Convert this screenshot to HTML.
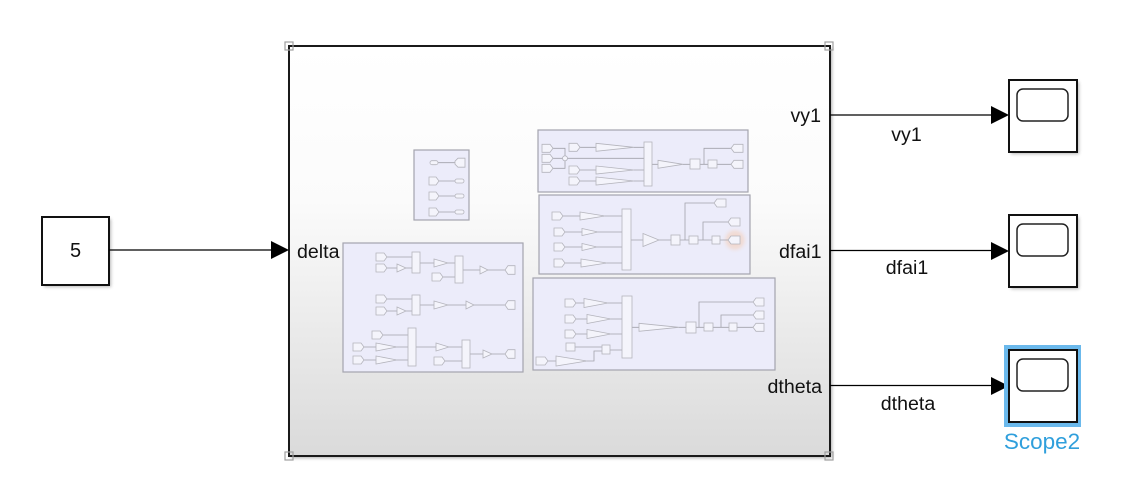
<!DOCTYPE html>
<html>
<head>
<meta charset="utf-8">
<style>
html,body{margin:0;padding:0;background:#fff;width:1134px;height:489px;overflow:hidden}
svg{display:block}
text{font-family:"Liberation Sans",Arial,sans-serif;fill:#111}
.p{fill:#ececfa;stroke:#a4a4ae;stroke-width:1.2}
.l{fill:none;stroke:#a2a2aa;stroke-width:.8}
.b{fill:#f4f4fb;stroke:#b4b4bc;stroke-width:.8}
.s{fill:none;stroke:#000;stroke-width:1.2}
.sc{fill:#fff;stroke:#111;stroke-width:2}
.h{fill:none;stroke:#a0a0a0;stroke-width:1.2}
</style>
</head>
<body>
<svg width="1134" height="489" viewBox="0 0 1134 489" xmlns="http://www.w3.org/2000/svg">
<defs>
<linearGradient id="g" x1="0" y1="0" x2="0" y2="1">
<stop offset="0" stop-color="#ffffff"/>
<stop offset=".38" stop-color="#fbfbfb"/>
<stop offset="1" stop-color="#dadada"/>
</linearGradient>
<radialGradient id="glow">
<stop offset="0" stop-color="#f3c9b4" stop-opacity=".9"/>
<stop offset=".6" stop-color="#f3d6c8" stop-opacity=".6"/>
<stop offset="1" stop-color="#ececfa" stop-opacity="0"/>
</radialGradient>
<filter id="sh" x="-5%" y="-5%" width="112%" height="112%"><feGaussianBlur stdDeviation="1.6"/></filter>
</defs>

<!-- constant -->
<rect x="44" y="219" width="67" height="68" fill="#888" opacity=".6" filter="url(#sh)"/>
<rect x="42" y="217" width="67" height="68" class="sc"/>
<text x="75.500" y="257" font-size="20" text-anchor="middle">5</text>

<!-- subsystem -->
<rect x="291" y="48" width="541" height="410" fill="#777" opacity=".6" filter="url(#sh)"/>
<rect x="289" y="46" width="541" height="410" fill="url(#g)" stroke="#1a1a1a" stroke-width="2"/>
<rect x="285" y="42" width="8" height="8" class="h"/>
<rect x="825" y="42" width="8" height="8" class="h"/>
<rect x="285" y="452" width="8" height="8" class="h"/>
<rect x="825" y="452" width="8" height="8" class="h"/>

<!-- signals -->
<path class="s" d="M109 250H273"/>
<path d="M271 241L289 250L271 259Z" fill="#000"/>
<path class="s" d="M830 115H992"/>
<path d="M991 106L1009 115L991 124Z" fill="#000"/>
<path class="s" d="M830 250.500H992"/>
<path d="M991 242L1009 251L991 260Z" fill="#000"/>
<path class="s" d="M830 385.500H992"/>
<path d="M991 377L1009 386L991 395Z" fill="#000"/>

<text x="297" y="258" font-size="19.600">delta</text>
<text x="821" y="122" font-size="19.600" text-anchor="end">vy1</text>
<text x="821.500" y="258" font-size="19.600" text-anchor="end">dfai1</text>
<text x="822" y="393" font-size="19.600" text-anchor="end">dtheta</text>
<text x="906.500" y="141" font-size="19.600" text-anchor="middle">vy1</text>
<text x="907" y="274" font-size="19.600" text-anchor="middle">dfai1</text>
<text x="908" y="410" font-size="19.600" text-anchor="middle">dtheta</text>

<!-- scopes -->
<rect x="1011" y="82" width="68" height="72" fill="#888" opacity=".6" filter="url(#sh)"/>
<rect x="1009" y="80" width="68" height="72" class="sc"/>
<rect x="1017" y="89" width="51" height="32" rx="6" fill="#fff" stroke="#222" stroke-width="1.500"/>
<rect x="1011" y="217" width="68" height="72" fill="#888" opacity=".6" filter="url(#sh)"/>
<rect x="1009" y="215" width="68" height="72" class="sc"/>
<rect x="1017" y="224" width="51" height="32" rx="6" fill="#fff" stroke="#222" stroke-width="1.500"/>
<rect x="1004" y="345" width="77" height="82" fill="#6bb9ec"/>
<rect x="1009" y="350" width="68" height="72" class="sc"/>
<rect x="1017" y="359" width="51" height="32" rx="6" fill="#fff" stroke="#222" stroke-width="1.500"/>
<text x="1042" y="449" font-size="22.500" text-anchor="middle" style="fill:#2f9fdc">Scope2</text>

<!-- Panel A -->
<rect class="p" x="538" y="130" width="210" height="62"/>
<path class="l" d="M553 148.300H565V156M553 168.300H565V161M553 158.300H562.500M567.500 158.300H644M580 147.300H596M634 147.300H644M580 170H596M634 170H644M580 181H596M634 181H644M652 164.300H658M683 164.300H690M700 164.300H708M717 164.300H731M704 164.300V148.300H731"/>
<path class="b" d="M542 144.300h8l3 4l-3 4h-8zM542 154.300h8l3 4l-3 4h-8zM542 164.300h8l3 4l-3 4h-8zM569 143.300h8l3 4l-3 4h-8zM569 166h8l3 4l-3 4h-8zM569 177h8l3 4l-3 4h-8z"/>
<circle class="b" cx="565" cy="158.300" r="2.500"/>
<path class="b" d="M596 143.300L634 147.300L596 151.300ZM596 166L634 170L596 174ZM596 177L634 181L596 185ZM658 160.300L683 164.300L658 168.300Z"/>
<rect class="b" x="644" y="142" width="8" height="44"/>
<rect class="b" x="690" y="159" width="10" height="10"/>
<rect class="b" x="708" y="160" width="9" height="8"/>
<path class="b" d="M743 144.300h-9l-3 4l3 4h9zM743 160.300h-9l-3 4l3 4h9z"/>

<!-- Panel B -->
<rect class="p" x="539" y="195" width="211" height="79"/>
<circle cx="735" cy="240" r="14" fill="url(#glow)"/>
<path class="l" d="M563 216H580M605 216H622M565 232H582M598 232H622M565 247H582M597 247H622M565 263H581M607 263H622M631 240H643M659 240H671M680 240H689M698 240H712M720 240H729M685 240V203H714M703 240V222H728"/>
<path class="b" d="M552 212h8l3 4l-3 4h-8zM554 228h8l3 4l-3 4h-8zM554 243h8l3 4l-3 4h-8zM554 259h8l3 4l-3 4h-8z"/>
<path class="b" d="M580 212L605 216L580 220ZM582 228.500L598 232L582 235.500ZM582 243.500L597 247L582 250.500ZM581 259L607 263L581 267ZM643 233.500L659 240L643 246.500Z"/>
<rect class="b" x="622" y="209" width="9" height="61"/>
<rect class="b" x="671" y="235" width="9" height="10"/>
<rect class="b" x="689" y="236" width="9" height="8"/>
<rect class="b" x="712" y="236" width="8" height="8"/>
<path class="b" d="M726 199h-9l-3 4l3 4h9zM740 218h-9l-3 4l3 4h9zM740 236h-9l-3 4l3 4h9z"/>

<!-- Panel C -->
<rect class="p" x="533" y="278" width="242" height="92"/>
<path class="l" d="M576 303H584M608 303H622M576 319H587M611 319H622M576 334H587M611 334H622M575 347H602M610 350H622M548 361H556M587 361H594V351H602M632 327.300H639M679 327.300H686M696 327.300H704M713 327.300H729M737 327.300H753M699 327.300V302H753M721 327.300V315H753"/>
<path class="b" d="M565 299h8l3 4l-3 4h-8zM565 315h8l3 4l-3 4h-8zM565 330h8l3 4l-3 4h-8zM536 357h9l3 4l-3 4h-9z"/>
<rect class="b" x="566" y="343" width="9" height="8"/>
<path class="b" d="M584 298.500L608 303L584 307.500ZM587 314.500L611 319L587 323.500ZM587 329.500L611 334L587 338.500ZM556 356L587 361L556 366ZM639 323.300L679 327.300L639 331.300Z"/>
<rect class="b" x="622" y="296" width="10" height="62"/>
<rect class="b" x="602" y="345" width="8" height="9"/>
<rect class="b" x="686" y="322" width="10" height="11"/>
<rect class="b" x="704" y="323" width="9" height="8"/>
<rect class="b" x="729" y="323" width="8" height="8"/>
<path class="b" d="M764 298h-8l-3 4l3 4h8zM764 311h-8l-3 4l3 4h8zM764 323.300h-8l-3 4l3 4h8z"/>

<!-- Panel D -->
<rect class="p" x="414" y="150" width="55" height="70"/>
<path class="l" d="M438 162.700H455M439 181H455M439 196H455M439 212H455"/>
<rect class="b" x="430" y="160.700" width="8" height="4" rx="2"/>
<path class="b" d="M465 158.200h-7l-3 3v3l3 3h7z"/>
<path class="b" d="M429 177h7l3 4l-3 4h-7zM429 192h7l3 4l-3 4h-7zM429 208h7l3 4l-3 4h-7z"/>
<rect class="b" x="455" y="179" width="9" height="4" rx="2"/>
<rect class="b" x="455" y="194" width="9" height="4" rx="2"/>
<rect class="b" x="455" y="210" width="9" height="4" rx="2"/>

<!-- Panel E -->
<rect class="p" x="343" y="243" width="180" height="129"/>
<path class="l" d="M387 257H412M387 268H397M406 268H412M420 263H434M448 263H455M443 277H455M463 270H480M488 270H505M387 299H412M387 311H397M406 311H412M420 305H434M448 305H466M474 305H505M383 335H408M364 347H376M397 347H408M364 360H376M397 360H408M416 347H436M449 347H462M445 361H462M470 354H483M492 354H505"/>
<path class="b" d="M376 253h8l3 4l-3 4h-8zM376 264h8l3 4l-3 4h-8zM432 273h8l3 4l-3 4h-8zM376 295h8l3 4l-3 4h-8zM376 307h8l3 4l-3 4h-8zM372 331h8l3 4l-3 4h-8zM353 343h8l3 4l-3 4h-8zM353 356h8l3 4l-3 4h-8zM434 357h8l3 4l-3 4h-8z"/>
<path class="b" d="M397 264L406 268L397 272ZM434 259L448 263L434 267ZM480 266L488 270L480 274ZM397 307L406 311L397 315ZM434 301L448 305L434 309ZM466 301L474 305L466 309ZM376 343L397 347L376 351ZM376 356L397 360L376 364ZM436 343L449 347L436 351ZM483 350L492 354L483 358Z"/>
<rect class="b" x="412" y="252" width="8" height="21"/>
<rect class="b" x="455" y="256" width="8" height="27"/>
<rect class="b" x="412" y="295" width="8" height="20"/>
<rect class="b" x="408" y="328" width="8" height="38"/>
<rect class="b" x="462" y="340" width="8" height="28"/>
<path class="b" d="M515 265.700h-7l-3 4.300l3 4.300h7zM515 300.700h-7l-3 4.300l3 4.300h7zM515 349.700h-7l-3 4.300l3 4.300h7z"/>
</svg>
</body>
</html>
